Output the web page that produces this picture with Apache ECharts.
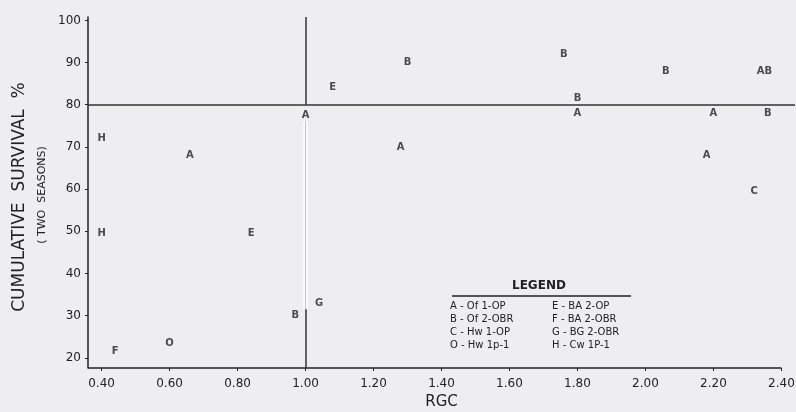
<!DOCTYPE html>
<html>
<head>
<meta charset="utf-8">
<script src="https://cdn.jsdelivr.net/npm/echarts@6/dist/echarts.min.js"></script>
<style>
html,body{margin:0;padding:0;background:#eeedef;}
#main{width:796px;height:412px;}
</style>
</head>
<body>
<div id="main"></div>
<script>
// RGC (x), survival % (y), plotting letter
var pointX = [0.40, 0.66, 1.00, 1.08, 1.30, 1.28, 0.40, 0.84, 1.04, 0.97, 0.60, 0.44,
              1.76, 1.80, 1.80, 2.06, 2.35, 2.20, 2.36, 2.18, 2.32];
var pointY = [72, 68, 77.5, 84, 90, 70, 49.5, 49.5, 33, 30, 23.5, 21.5,
              92, 81.5, 78, 88, 88, 78, 78, 68, 59.5];
var pointTag = ['H', 'A', 'A', 'E', 'B', 'A', 'H', 'E', 'G', 'B', 'O', 'F',
                'B', 'B', 'A', 'B', 'AB', 'A', 'B', 'A', 'C'];

var xTicks = [0.40, 0.60, 0.80, 1.00, 1.20, 1.40, 1.60, 1.80, 2.00, 2.20, 2.40];
var yTicks = [20, 30, 40, 50, 60, 70, 80, 90, 100];

var legendLeft  = ['A - Of 1-OP', 'B - Of 2-OBR', 'C - Hw 1-OP', 'O - Hw 1p-1'];
var legendRight = ['E - BA 2-OP', 'F - BA 2-OBR', 'G - BG 2-OBR', 'H - Cw 1P-1'];

var refY = 80;     // horizontal guide
var refX = 1.00;   // vertical guide

var xMin = 0.36, xEnd = 2.40, xMax = 2.44;  // axis drawn to 2.40, guide runs to page edge
var yMin = 17.6, yMax = 100.8;

var ink = '#222';
var font = 'DejaVu Sans';

var pts = [];
for (var i = 0; i < pointX.length; i++) {
    pts.push([pointX[i], pointY[i], pointTag[i]]);
}

var myChart = echarts.init(document.getElementById('main'));

// legend block (text only)
var legendGfx = [
    {type: 'text', left: 512, top: 280, style: {text: 'LEGEND', font: '600 12px ' + font, fill: ink}},
    {type: 'line', shape: {x1: 452, y1: 296, x2: 631, y2: 296}, style: {stroke: ink, lineWidth: 1.5}}
];
for (var r = 0; r < legendLeft.length; r++) {
    legendGfx.push({type: 'text', left: 450, top: 301 + r * 13,
        style: {text: legendLeft[r], font: '500 10px ' + font, fill: ink}});
    legendGfx.push({type: 'text', left: 552, top: 301 + r * 13,
        style: {text: legendRight[r], font: '500 10px ' + font, fill: ink}});
}
// y axis titles
legendGfx.push({type: 'text', x: 20, y: 197, rotation: Math.PI / 2,
    style: {text: 'CUMULATIVE  SURVIVAL  %', font: '17px ' + font, fill: ink, align: 'center', verticalAlign: 'middle'}});
legendGfx.push({type: 'text', x: 42, y: 195, rotation: Math.PI / 2,
    style: {text: '( TWO  SEASONS)', font: '11px ' + font, fill: ink, align: 'center', verticalAlign: 'middle'}});

var darkLine = {color: '#333', width: 1.5, type: 'solid'};

var option = {
    backgroundColor: '#eeedef',
    animation: false,
    grid: {left: 88, top: 17, right: 1, bottom: 44, outerBoundsMode: 'none', containLabel: false},
    xAxis: {
        type: 'value',
        min: xMin,
        max: xMax,
        name: 'RGC',
        nameLocation: 'middle',
        nameGap: 27,
        nameTextStyle: {fontSize: 15, fontFamily: font, color: ink, verticalAlign: 'top'},
        splitLine: {show: false},
        axisLine: {show: false},
        axisTick: {customValues: xTicks, length: 3, lineStyle: {color: ink}},
        axisLabel: {
            customValues: xTicks,
            fontSize: 12,
            fontFamily: font,
            color: ink,
            margin: 10,
            formatter: function (v) { return v.toFixed(2); }
        }
    },
    yAxis: {
        type: 'value',
        min: yMin,
        max: yMax,
        splitLine: {show: false},
        axisLine: {show: true, lineStyle: {color: ink, width: 1.5}},
        axisTick: {show: true, customValues: yTicks, length: 3, lineStyle: {color: ink}},
        axisLabel: {
            customValues: yTicks,
            fontSize: 12,
            fontFamily: font,
            color: ink,
            margin: 7
        }
    },
    graphic: legendGfx,
    series: [
        {
            type: 'scatter',
            data: pts,
            symbolSize: 0,
            silent: true,
            label: {
                show: true,
                position: 'inside',
                formatter: function (p) { return p.value[2]; },
                fontSize: 10,
                fontWeight: 600,
                fontFamily: font,
                color: ink
            },
            markLine: {
                silent: true,
                symbol: 'none',
                label: {show: false},
                data: [
                    // x axis baseline (ends at 2.40)
                    [{coord: [xMin, yMin], lineStyle: {color: ink, width: 1.5, type: 'solid'}}, {coord: [xEnd, yMin]}],
                    // guide at 80 %
                    [{coord: [xMin, refY], lineStyle: darkLine}, {coord: [xMax, refY]}],
                    // guide at RGC 1.00 (faded middle part)
                    [{coord: [refX, yMax], lineStyle: darkLine}, {coord: [refX, refY]}],
                    [{coord: [refX, 76], lineStyle: {color: '#fbfbfb', width: 5, type: 'solid'}}, {coord: [refX, 31.5]}],
                    [{coord: [refX, 76], lineStyle: {color: '#c4c4c4', width: 1, type: 'solid'}}, {coord: [refX, 31.5]}],
                    [{coord: [refX, 31.5], lineStyle: darkLine}, {coord: [refX, yMin]}]
                ]
            }
        }
    ]
};
myChart.setOption(option);
</script>
</body>
</html>
